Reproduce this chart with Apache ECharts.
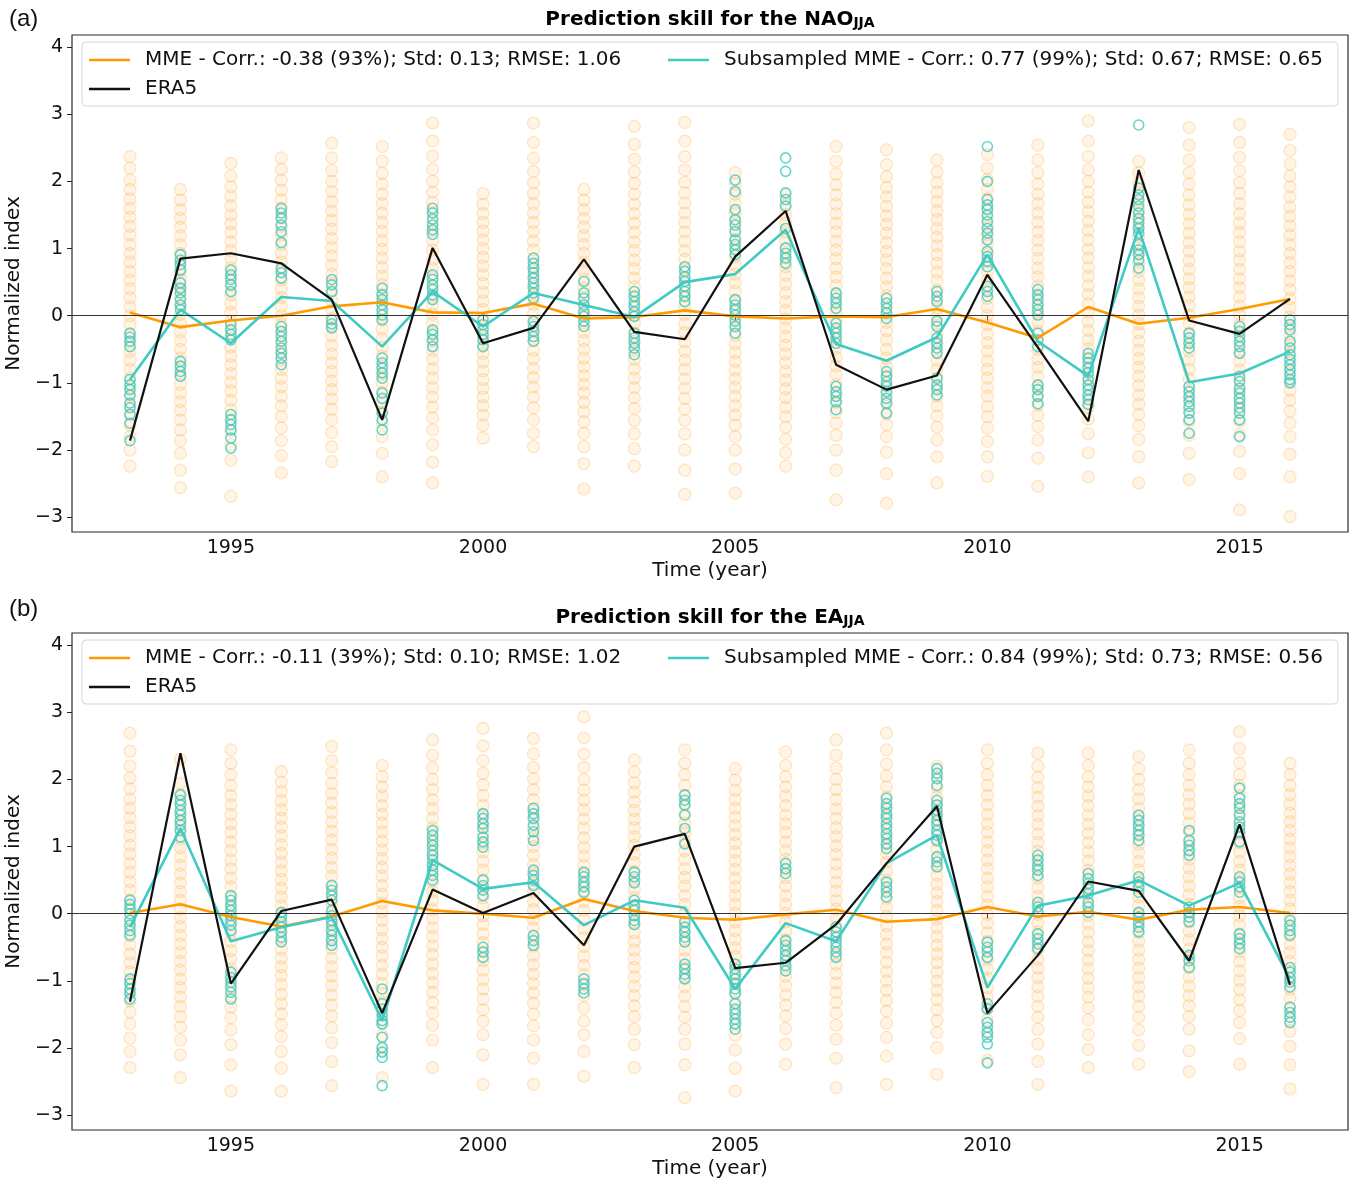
<!DOCTYPE html>
<html><head><meta charset="utf-8">
<script src="https://cdn.jsdelivr.net/npm/echarts@6/dist/echarts.min.js"></script>
<style>html,body{margin:0;padding:0;background:#fff}#c{width:1351px;height:1179px}</style>
</head><body><div id="c"></div>
<script>
// ---------- data ----------
const years = [1993,1994,1995,1996,1997,1998,1999,2000,2001,2002,2003,2004,2005,2006,2007,2008,2009,2010,2011,2012,2013,2014,2015,2016];
const xTicks = [1995,2000,2005,2010,2015];
const yTicks = [-3,-2,-1,0,1,2,3,4];

const naoLabels = ['MME - Corr.: -0.38 (93%); Std: 0.13; RMSE: 1.06','Subsampled MME - Corr.: 0.77 (99%); Std: 0.67; RMSE: 0.65','ERA5'];
const eaLabels  = ['MME - Corr.: -0.11 (39%); Std: 0.10; RMSE: 1.02','Subsampled MME - Corr.: 0.84 (99%); Std: 0.73; RMSE: 0.56','ERA5'];

const naoMME  = [0.05,-0.17,-0.07,0.00,0.14,0.20,0.05,0.04,0.18,-0.04,-0.02,0.08,-0.01,-0.04,-0.01,-0.02,0.10,-0.10,-0.33,0.13,-0.12,-0.03,0.10,0.25];
const naoSub  = [-0.95,0.09,-0.41,0.28,0.22,-0.46,0.36,-0.16,0.34,0.16,-0.02,0.50,0.62,1.28,-0.42,-0.67,-0.32,0.91,-0.38,-0.90,1.30,-0.99,-0.86,-0.53];
const naoERA5 = [-1.86,0.85,0.93,0.78,0.24,-1.55,1.01,-0.41,-0.18,0.84,-0.24,-0.35,0.88,1.56,-0.73,-1.10,-0.89,0.61,-0.47,-1.57,2.17,-0.07,-0.27,0.25];

const eaMME  = [0.01,0.14,-0.05,-0.19,-0.04,0.19,0.05,0.00,-0.06,0.22,0.04,-0.06,-0.09,-0.01,0.06,-0.12,-0.08,0.10,-0.04,0.03,-0.09,0.06,0.10,0.01];
const eaSub  = [-0.20,1.27,-0.41,-0.20,-0.05,-1.59,0.80,0.37,0.47,-0.17,0.20,0.09,-1.12,-0.14,-0.41,0.75,1.17,-1.10,0.12,0.27,0.50,0.12,0.46,-0.97];
const eaERA5 = [-1.31,2.39,-1.04,0.04,0.21,-1.48,0.36,0.01,0.31,-0.47,1.00,1.19,-0.81,-0.73,-0.16,0.75,1.60,-1.48,-0.62,0.48,0.34,-0.70,1.33,-1.06];

// subsampled ensemble members (cyan circles), one list per year
const naoSubMembers = [
[-0.26,-0.32,-0.38,-0.46,-0.95,-1.03,-1.10,-1.18,-1.30,-1.37,-1.47,-1.60,-1.86],
[0.91,0.83,0.76,0.68,0.49,0.41,0.34,0.24,0.16,0.09,-0.68,-0.75,-0.83,-0.90],
[0.68,0.61,0.54,0.46,0.36,-0.13,-0.21,-0.28,-0.36,-1.47,-1.55,-1.62,-1.70,-1.82,-1.97],
[1.60,1.53,1.45,1.35,1.25,1.09,0.71,0.64,0.56,-0.16,-0.23,-0.31,-0.38,-0.48,-0.56,-0.63,-0.73],
[0.54,0.46,0.36,-0.06,-0.12,-0.18],
[0.41,0.31,0.24,0.16,0.09,0.01,-0.06,-0.63,-0.70,-0.78,-0.85,-0.93,-1.15,-1.23,-1.45,-1.55,-1.70],
[1.60,1.53,1.44,1.35,1.28,1.21,0.61,0.54,0.46,0.39,0.31,0.24,-0.21,-0.28,-0.36,-0.46],
[-0.06,-0.13,-0.21,-0.28,-0.36,-0.46],
[0.86,0.78,0.71,0.64,0.56,0.49,0.41,0.34,0.26,-0.08,-0.16,-0.23,-0.31,-0.38],
[0.51,0.34,0.26,0.16,0.06,-0.01,-0.08,-0.16],
[0.36,0.29,0.21,0.14,0.06,-0.01,-0.26,-0.33,-0.41,-0.48,-0.58],
[0.73,0.66,0.58,0.51,0.44,0.36,0.29,0.21],
[2.02,1.85,1.58,1.43,1.35,1.25,1.13,1.06,0.98,0.91,0.24,0.16,0.09,0.01,-0.08,-0.16,-0.26],
[2.35,2.15,1.83,1.73,1.63,1.30,1.01,0.93,0.86,0.78],
[0.34,0.26,0.19,0.11,-0.11,-0.18,-0.26,-0.33,-0.41,-1.05,-1.13,-1.20,-1.28,-1.40],
[0.26,0.19,0.11,0.04,-0.04,-0.83,-0.90,-0.98,-1.05,-1.13,-1.23,-1.30,-1.45],
[0.36,0.29,0.21,-0.08,-0.16,-0.33,-0.41,-0.48,-0.56,-0.93,-1.03,-1.10,-1.18],
[2.52,2.00,1.73,1.65,1.58,1.50,1.40,1.30,1.23,1.13,0.96,0.88,0.81,0.73,0.44,0.36,0.29],
[0.39,0.31,0.24,0.16,0.09,0.01,-0.26,-0.36,-0.46,-1.03,-1.10,-1.20,-1.31],
[-0.56,-0.63,-0.70,-0.78,-0.85,-0.95,-1.03,-1.10,-1.18,-1.25,-1.32],
[2.84,1.90,1.80,1.73,1.63,1.53,1.45,1.38,1.30,1.23,1.06,0.98,0.91,0.83,0.71],
[-0.26,-0.33,-0.41,-0.48,-1.05,-1.13,-1.20,-1.28,-1.35,-1.45,-1.55,-1.75],
[-0.16,-0.23,-0.31,-0.38,-0.46,-0.56,-0.90,-0.98,-1.08,-1.15,-1.23,-1.30,-1.37,-1.45,-1.55,-1.80],
[-0.06,-0.13,-0.21,-0.38,-0.48,-0.58,-0.65,-0.73,-0.80,-0.88,-0.95,-1.00]
];
const eaSubMembers = [
[0.20,0.14,0.07,0.00,-0.10,-0.17,-0.25,-0.32,-0.97,-1.04,-1.12,-1.19,-1.27],
[1.77,1.69,1.62,1.54,1.47,1.39,1.32,1.24,1.14],
[0.27,0.20,0.12,0.05,-0.03,-0.10,-0.17,-0.25,-0.87,-0.95,-1.02,-1.09,-1.17,-1.27],
[0.02,-0.05,-0.12,-0.20,-0.27,-0.35,-0.42],
[0.42,0.35,0.27,0.20,0.05,-0.03,-0.10,-0.17,-0.25,-0.32,-0.40,-0.47],
[-1.12,-1.34,-1.42,-1.52,-1.59,-1.64,-1.84,-1.99,-2.06,-2.14,-2.56],
[1.24,1.17,1.09,1.02,0.94,0.87,0.80,0.72,0.65,0.57,0.50],
[1.49,1.42,1.34,1.27,1.14,1.07,0.99,0.50,0.42,0.35,0.27,-0.50,-0.57,-0.65],
[1.57,1.49,1.42,1.32,1.22,1.09,0.65,0.57,0.50,0.42,-0.32,-0.40,-0.47],
[0.62,0.55,0.47,0.40,0.32,-0.97,-1.04,-1.12,-1.18],
[0.62,0.55,0.46,0.20,0.12,0.05,-0.03,-0.10,-0.16],
[1.77,1.69,1.62,1.47,1.27,1.04,-0.12,-0.20,-0.27,-0.35,-0.42,-0.75,-0.82,-0.90,-0.97],
[-0.75,-0.82,-0.90,-0.97,-1.04,-1.12,-1.19,-1.34,-1.42,-1.49,-1.57,-1.64,-1.72],
[0.75,0.67,0.60,-0.40,-0.47,-0.55,-0.62,-0.70,-0.77,-0.85],
[-0.20,-0.27,-0.35,-0.42,-0.50,-0.57,-0.65],
[1.72,1.64,1.57,1.49,1.42,1.34,1.27,1.19,1.12,1.04,0.97,0.47,0.40,0.32,0.25],
[2.16,2.09,2.01,1.91,1.69,1.62,1.54,1.47,1.39,1.32,1.24,1.17,1.09,0.85,0.77,0.70],
[-0.42,-0.50,-0.57,-0.65,-1.34,-1.42,-1.62,-1.69,-1.77,-1.84,-1.94,-2.22],
[0.87,0.80,0.72,0.65,0.57,0.17,0.10,0.02,-0.30,-0.37,-0.45,-0.52],
[0.60,0.52,0.45,0.37,0.30,0.17,0.10,0.02],
[1.47,1.39,1.32,1.24,1.17,1.09,0.55,0.47,0.40,0.32,0.02,-0.05,-0.12,-0.20,-0.27],
[1.24,1.09,1.02,0.94,0.87,0.10,0.02,-0.05,-0.12,-0.62,-0.70,-0.80],
[1.87,1.72,1.64,1.57,1.47,1.37,1.29,1.22,1.07,0.55,0.47,0.40,0.32,-0.30,-0.37,-0.45,-0.52],
[-0.10,-0.17,-0.25,-0.32,-0.80,-0.87,-0.95,-1.02,-1.09,-1.39,-1.47,-1.54,-1.62]
];

// full ensemble members (faint orange circles), one list per year
const naoEnsMembers = [
[2.37,2.2,2.02,1.88,1.74,1.6,1.47,1.33,1.2,1.06,0.93,0.8,0.66,0.53,0.4,0.27,0.13,0.0,-0.13,-0.27,-0.4,-0.53,-0.66,-0.8,-0.93,-1.06,-1.2,-1.34,-1.48,-1.63,-1.8,-2.0,-2.24],
[1.88,1.72,1.58,1.45,1.32,1.19,1.06,0.93,0.8,0.67,0.54,0.41,0.28,0.15,0.02,-0.11,-0.24,-0.37,-0.5,-0.63,-0.76,-0.89,-1.02,-1.15,-1.28,-1.41,-1.55,-1.7,-1.86,-2.05,-2.3,-2.56],
[2.27,2.08,1.92,1.78,1.64,1.5,1.37,1.24,1.1,0.97,0.84,0.71,0.58,0.45,0.31,0.18,0.05,-0.08,-0.21,-0.34,-0.47,-0.6,-0.73,-0.86,-0.99,-1.12,-1.26,-1.4,-1.55,-1.72,-1.92,-2.15,-2.69],
[2.35,2.18,2.02,1.87,1.73,1.6,1.46,1.33,1.2,1.06,0.93,0.8,0.66,0.53,0.4,0.27,0.14,0.0,-0.13,-0.26,-0.4,-0.53,-0.66,-0.8,-0.93,-1.06,-1.2,-1.34,-1.5,-1.67,-1.86,-2.08,-2.34],
[2.57,2.35,2.16,2.0,1.85,1.7,1.56,1.42,1.29,1.15,1.02,0.89,0.75,0.62,0.49,0.36,0.22,0.09,-0.04,-0.17,-0.3,-0.44,-0.57,-0.7,-0.83,-0.97,-1.1,-1.24,-1.39,-1.55,-1.74,-1.95,-2.17],
[2.52,2.3,2.12,1.96,1.81,1.67,1.53,1.39,1.26,1.12,0.99,0.86,0.72,0.59,0.46,0.32,0.19,0.06,-0.07,-0.2,-0.34,-0.47,-0.6,-0.74,-0.87,-1.0,-1.14,-1.28,-1.43,-1.6,-1.8,-2.05,-2.4],
[2.87,2.6,2.38,2.18,2.0,1.84,1.69,1.54,1.4,1.26,1.12,0.98,0.84,0.7,0.57,0.43,0.29,0.16,0.02,-0.11,-0.25,-0.38,-0.52,-0.65,-0.79,-0.93,-1.07,-1.21,-1.36,-1.52,-1.7,-1.92,-2.18,-2.49],
[1.82,1.66,1.52,1.39,1.26,1.13,1.0,0.87,0.74,0.61,0.48,0.35,0.22,0.09,-0.04,-0.17,-0.3,-0.43,-0.56,-0.69,-0.82,-0.95,-1.08,-1.21,-1.34,-1.48,-1.63,-1.82],
[2.87,2.58,2.35,2.15,1.98,1.82,1.67,1.53,1.39,1.25,1.11,0.98,0.84,0.71,0.57,0.44,0.3,0.17,0.03,-0.1,-0.24,-0.37,-0.51,-0.64,-0.78,-0.92,-1.06,-1.21,-1.37,-1.55,-1.75,-1.95],
[1.88,1.72,1.58,1.45,1.32,1.19,1.06,0.93,0.8,0.67,0.54,0.41,0.28,0.15,0.02,-0.11,-0.24,-0.37,-0.5,-0.63,-0.76,-0.89,-1.02,-1.15,-1.29,-1.43,-1.58,-1.75,-1.95,-2.2,-2.58],
[2.82,2.55,2.33,2.14,1.97,1.81,1.66,1.52,1.38,1.24,1.1,0.97,0.83,0.7,0.56,0.43,0.29,0.16,0.02,-0.11,-0.25,-0.38,-0.52,-0.65,-0.79,-0.93,-1.07,-1.22,-1.38,-1.56,-1.76,-1.98,-2.24],
[2.88,2.6,2.37,2.17,1.99,1.83,1.68,1.53,1.39,1.25,1.11,0.97,0.84,0.7,0.56,0.43,0.29,0.15,0.02,-0.12,-0.25,-0.39,-0.53,-0.66,-0.8,-0.94,-1.08,-1.23,-1.39,-1.56,-1.76,-2.0,-2.3,-2.66],
[2.13,1.96,1.81,1.67,1.53,1.4,1.27,1.14,1.01,0.88,0.75,0.62,0.49,0.36,0.23,0.1,-0.03,-0.16,-0.29,-0.42,-0.55,-0.68,-0.81,-0.94,-1.07,-1.2,-1.34,-1.48,-1.63,-1.8,-2.0,-2.28,-2.64],
[1.8,1.65,1.51,1.38,1.25,1.12,0.99,0.86,0.73,0.6,0.47,0.34,0.21,0.08,-0.05,-0.18,-0.31,-0.44,-0.57,-0.7,-0.83,-0.96,-1.09,-1.22,-1.36,-1.5,-1.66,-1.84,-2.04,-2.24],
[2.52,2.3,2.11,1.95,1.8,1.66,1.52,1.38,1.25,1.11,0.98,0.85,0.71,0.58,0.45,0.31,0.18,0.05,-0.08,-0.22,-0.35,-0.48,-0.62,-0.75,-0.88,-1.02,-1.15,-1.29,-1.44,-1.6,-1.78,-2.0,-2.3,-2.74],
[2.47,2.25,2.07,1.91,1.77,1.63,1.49,1.36,1.23,1.09,0.96,0.83,0.7,0.56,0.43,0.3,0.17,0.03,-0.1,-0.23,-0.36,-0.5,-0.63,-0.76,-0.9,-1.03,-1.17,-1.31,-1.46,-1.62,-1.8,-2.03,-2.35,-2.79],
[2.32,2.14,1.98,1.84,1.7,1.56,1.43,1.3,1.17,1.04,0.91,0.78,0.65,0.52,0.38,0.25,0.12,-0.01,-0.14,-0.27,-0.4,-0.53,-0.66,-0.8,-0.93,-1.06,-1.2,-1.34,-1.49,-1.66,-1.85,-2.1,-2.49],
[2.4,2.2,2.03,1.88,1.74,1.6,1.46,1.33,1.2,1.06,0.93,0.8,0.66,0.53,0.4,0.26,0.13,0.0,-0.13,-0.27,-0.4,-0.53,-0.67,-0.8,-0.93,-1.07,-1.2,-1.35,-1.5,-1.67,-1.87,-2.1,-2.39],
[2.54,2.32,2.13,1.96,1.81,1.67,1.53,1.39,1.25,1.12,0.98,0.85,0.71,0.58,0.44,0.31,0.17,0.04,-0.1,-0.23,-0.37,-0.5,-0.64,-0.77,-0.91,-1.05,-1.19,-1.33,-1.48,-1.65,-1.85,-2.12,-2.54],
[2.9,2.6,2.37,2.17,2.0,1.84,1.69,1.55,1.41,1.27,1.13,0.99,0.86,0.72,0.59,0.45,0.32,0.18,0.05,-0.09,-0.22,-0.36,-0.49,-0.63,-0.77,-0.91,-1.05,-1.2,-1.36,-1.54,-1.76,-2.04,-2.4],
[2.3,2.13,1.98,1.84,1.7,1.57,1.44,1.31,1.18,1.05,0.92,0.79,0.66,0.53,0.4,0.27,0.14,0.01,-0.12,-0.25,-0.38,-0.51,-0.64,-0.77,-0.9,-1.04,-1.18,-1.32,-1.47,-1.64,-1.84,-2.1,-2.49],
[2.8,2.54,2.32,2.13,1.96,1.8,1.65,1.51,1.37,1.23,1.09,0.96,0.82,0.69,0.55,0.42,0.28,0.15,0.01,-0.12,-0.26,-0.39,-0.53,-0.66,-0.8,-0.94,-1.08,-1.23,-1.39,-1.57,-1.78,-2.05,-2.44],
[2.85,2.58,2.36,2.16,1.98,1.82,1.67,1.52,1.38,1.24,1.1,0.96,0.83,0.69,0.55,0.42,0.28,0.14,0.01,-0.13,-0.26,-0.4,-0.54,-0.67,-0.81,-0.95,-1.09,-1.24,-1.4,-1.57,-1.77,-2.02,-2.35,-2.89],
[2.7,2.46,2.26,2.08,1.92,1.77,1.62,1.48,1.34,1.2,1.06,0.93,0.79,0.66,0.52,0.39,0.25,0.12,-0.02,-0.15,-0.29,-0.42,-0.56,-0.69,-0.83,-0.97,-1.11,-1.26,-1.42,-1.6,-1.8,-2.06,-2.4,-2.99]
];
const eaEnsMembers = [
[2.69,2.42,2.2,2.02,1.86,1.71,1.57,1.43,1.29,1.16,1.02,0.89,0.75,0.62,0.48,0.35,0.21,0.08,-0.06,-0.19,-0.33,-0.46,-0.6,-0.73,-0.87,-1.01,-1.15,-1.3,-1.46,-1.64,-1.85,-2.05,-2.29],
[2.3,1.94,1.78,1.64,1.5,1.37,1.24,1.11,0.98,0.85,0.72,0.59,0.46,0.33,0.2,0.07,-0.06,-0.19,-0.32,-0.45,-0.58,-0.71,-0.84,-0.97,-1.1,-1.24,-1.38,-1.53,-1.69,-1.88,-2.1,-2.44],
[2.44,2.24,2.07,1.91,1.76,1.62,1.48,1.34,1.21,1.07,0.94,0.8,0.67,0.53,0.4,0.26,0.13,-0.01,-0.14,-0.28,-0.41,-0.55,-0.68,-0.82,-0.96,-1.1,-1.24,-1.39,-1.55,-1.73,-1.95,-2.25,-2.64],
[2.12,1.96,1.82,1.68,1.55,1.42,1.29,1.16,1.03,0.9,0.77,0.64,0.51,0.38,0.25,0.12,-0.01,-0.14,-0.27,-0.4,-0.53,-0.66,-0.79,-0.92,-1.06,-1.2,-1.34,-1.49,-1.65,-1.83,-2.05,-2.3,-2.64],
[2.49,2.28,2.1,1.94,1.79,1.65,1.51,1.37,1.23,1.1,0.96,0.83,0.69,0.56,0.42,0.29,0.15,0.02,-0.12,-0.25,-0.39,-0.52,-0.66,-0.79,-0.93,-1.07,-1.21,-1.36,-1.52,-1.7,-1.92,-2.2,-2.56],
[2.21,2.04,1.89,1.75,1.61,1.48,1.35,1.22,1.08,0.95,0.82,0.69,0.56,0.42,0.29,0.16,0.03,-0.1,-0.24,-0.37,-0.5,-0.63,-0.77,-0.9,-1.04,-1.18,-1.32,-1.47,-1.63,-1.81,-2.03,-2.44],
[2.59,2.36,2.17,2.0,1.85,1.7,1.56,1.42,1.28,1.14,1.01,0.87,0.74,0.6,0.47,0.33,0.2,0.06,-0.07,-0.21,-0.34,-0.48,-0.61,-0.75,-0.89,-1.03,-1.17,-1.32,-1.48,-1.66,-1.88,-2.29],
[2.76,2.5,2.28,2.09,1.92,1.76,1.61,1.47,1.33,1.19,1.05,0.92,0.78,0.65,0.51,0.38,0.24,0.11,-0.03,-0.16,-0.3,-0.43,-0.57,-0.7,-0.84,-0.98,-1.12,-1.27,-1.43,-1.6,-1.8,-2.1,-2.54],
[2.61,2.38,2.18,2.01,1.85,1.7,1.56,1.42,1.28,1.14,1.0,0.87,0.73,0.6,0.46,0.33,0.19,0.06,-0.08,-0.21,-0.35,-0.48,-0.62,-0.76,-0.9,-1.04,-1.18,-1.33,-1.49,-1.67,-1.88,-2.15,-2.54],
[2.93,2.62,2.38,2.18,2.0,1.84,1.69,1.55,1.41,1.27,1.13,0.99,0.86,0.72,0.59,0.45,0.32,0.18,0.05,-0.09,-0.22,-0.36,-0.49,-0.63,-0.77,-0.91,-1.06,-1.22,-1.4,-1.6,-1.8,-2.05,-2.42],
[2.29,2.11,1.95,1.81,1.67,1.54,1.41,1.28,1.15,1.02,0.89,0.76,0.63,0.5,0.37,0.24,0.11,-0.02,-0.15,-0.28,-0.41,-0.54,-0.67,-0.8,-0.94,-1.08,-1.22,-1.37,-1.53,-1.72,-1.95,-2.29],
[2.44,2.24,2.07,1.91,1.76,1.62,1.48,1.35,1.21,1.08,0.94,0.81,0.67,0.54,0.41,0.27,0.14,0.0,-0.13,-0.27,-0.4,-0.54,-0.67,-0.81,-0.95,-1.09,-1.23,-1.38,-1.54,-1.72,-1.94,-2.25,-2.74],
[2.16,1.99,1.84,1.7,1.57,1.44,1.31,1.18,1.05,0.92,0.79,0.66,0.53,0.4,0.27,0.14,0.01,-0.12,-0.25,-0.38,-0.51,-0.64,-0.77,-0.91,-1.04,-1.18,-1.32,-1.47,-1.63,-1.81,-2.03,-2.3,-2.64],
[2.41,2.21,2.04,1.89,1.75,1.61,1.47,1.34,1.21,1.07,0.94,0.81,0.67,0.54,0.41,0.27,0.14,0.01,-0.12,-0.26,-0.39,-0.52,-0.66,-0.79,-0.93,-1.07,-1.21,-1.36,-1.52,-1.71,-1.94,-2.24],
[2.59,2.36,2.17,2.0,1.85,1.7,1.56,1.42,1.28,1.15,1.01,0.88,0.74,0.61,0.47,0.34,0.2,0.07,-0.07,-0.2,-0.34,-0.47,-0.61,-0.75,-0.89,-1.03,-1.17,-1.32,-1.48,-1.66,-1.87,-2.15,-2.59],
[2.69,2.44,2.23,2.05,1.89,1.74,1.59,1.45,1.31,1.17,1.04,0.9,0.77,0.63,0.5,0.36,0.23,0.09,-0.04,-0.18,-0.31,-0.45,-0.58,-0.72,-0.86,-1.0,-1.14,-1.29,-1.45,-1.63,-1.84,-2.12,-2.54],
[2.2,2.03,1.88,1.74,1.61,1.48,1.35,1.22,1.09,0.96,0.83,0.7,0.57,0.44,0.31,0.18,0.05,-0.08,-0.21,-0.34,-0.47,-0.6,-0.73,-0.87,-1.0,-1.14,-1.28,-1.43,-1.59,-1.77,-1.99,-2.39],
[2.44,2.24,2.07,1.91,1.76,1.62,1.48,1.34,1.21,1.07,0.94,0.8,0.67,0.53,0.4,0.26,0.13,-0.01,-0.14,-0.28,-0.41,-0.55,-0.68,-0.82,-0.96,-1.1,-1.25,-1.41,-1.58,-1.78,-2.18],
[2.39,2.2,2.03,1.88,1.74,1.6,1.46,1.33,1.19,1.06,0.93,0.79,0.66,0.53,0.39,0.26,0.13,-0.01,-0.14,-0.27,-0.41,-0.54,-0.68,-0.81,-0.95,-1.09,-1.23,-1.38,-1.54,-1.72,-1.94,-2.2,-2.54],
[2.39,2.21,2.04,1.89,1.75,1.61,1.47,1.33,1.2,1.06,0.92,0.79,0.65,0.52,0.38,0.25,0.12,-0.02,-0.15,-0.28,-0.42,-0.55,-0.69,-0.82,-0.96,-1.1,-1.24,-1.4,-1.58,-1.8,-2.02,-2.29],
[2.34,2.16,2.0,1.85,1.71,1.57,1.44,1.31,1.17,1.04,0.91,0.78,0.65,0.51,0.38,0.25,0.12,-0.01,-0.15,-0.28,-0.41,-0.54,-0.68,-0.81,-0.95,-1.09,-1.23,-1.38,-1.54,-1.73,-1.96,-2.24],
[2.44,2.24,2.07,1.91,1.77,1.63,1.49,1.35,1.22,1.08,0.95,0.81,0.68,0.55,0.41,0.28,0.14,0.01,-0.12,-0.26,-0.39,-0.53,-0.66,-0.8,-0.94,-1.08,-1.22,-1.37,-1.53,-1.72,-2.04,-2.35],
[2.71,2.46,2.25,2.07,1.91,1.76,1.61,1.47,1.33,1.19,1.05,0.92,0.78,0.65,0.51,0.38,0.24,0.11,-0.03,-0.16,-0.3,-0.43,-0.57,-0.71,-0.85,-0.99,-1.13,-1.28,-1.44,-1.62,-1.86,-2.24],
[2.24,2.07,1.91,1.77,1.63,1.5,1.37,1.24,1.11,0.98,0.85,0.72,0.59,0.46,0.33,0.2,0.07,-0.06,-0.19,-0.32,-0.45,-0.58,-0.71,-0.85,-0.98,-1.12,-1.26,-1.41,-1.57,-1.75,-1.97,-2.25,-2.61]
];

// ---------- chart ----------
const FONT = 'DejaVu Sans';
const C_OR = '#FF9A00', C_CY = '#3FCBC4', C_BK = '#111111';
const X_MIN = 1991.85, X_MAX = 2017.15, Y_MIN = -3.22, Y_MAX = 4.18;
const GRID_TOP = [35, 633], GRID_H = 497;

function pts(members){ const out=[]; members.forEach((arr,i)=>arr.forEach(v=>out.push([years[i],v]))); return out; }
function ser(arr){ return arr.map((v,i)=>[years[i],v]); }
const minus = v => String(v).replace('-', '\u2212');

const grids = GRID_TOP.map(t=>({left:72, top:t, width:1276, height:GRID_H, show:true, borderColor:'#2a2a2a', borderWidth:1.2,
  backgroundColor:'transparent', containLabel:false, outerBoundsMode:'none'}));
const xAxes = [0,1].map(i=>({
  gridIndex:i, type:'value', min:X_MIN, max:X_MAX,
  splitLine:{show:false}, axisLine:{show:false},
  axisTick:{show:true, inside:false, length:5, customValues:xTicks, lineStyle:{color:'#222', width:1}},
  axisLabel:{customValues:xTicks, fontSize:19, fontFamily:FONT, color:'#111', margin:7, formatter:v=>String(v)},
  name:'Time (year)', nameLocation:'middle', nameGap:29,
  nameTextStyle:{fontSize:20, fontFamily:FONT, color:'#111'}
}));
const yAxes = [0,1].map(i=>({
  gridIndex:i, type:'value', min:Y_MIN, max:Y_MAX,
  splitLine:{show:false}, axisLine:{show:false},
  axisTick:{show:true, inside:false, length:5, customValues:yTicks, lineStyle:{color:'#222', width:1}},
  axisLabel:{customValues:yTicks, fontSize:19, fontFamily:FONT, color:'#111', margin:9, formatter:minus},
  name:'Normalized index', nameLocation:'middle', nameGap:43, nameRotate:90,
  nameTextStyle:{fontSize:20, fontFamily:FONT, color:'#111'}
}));

function panelSeries(p, ens, sub, mme, subLine, era, labels){
  return [
    {type:'scatter', name:'ens'+p, xAxisIndex:p, yAxisIndex:p, data:pts(ens), symbol:'circle', symbolSize:12,
     itemStyle:{color:'rgba(255,195,110,0.22)', borderColor:'rgba(255,178,70,0.38)', borderWidth:1.2}, silent:true, z:1,
     markLine:{silent:true, symbol:['none','none'], label:{show:false}, lineStyle:{color:'#333', width:1, type:'solid'}, data:[{yAxis:0}]}},
    {type:'scatter', name:'sub'+p, xAxisIndex:p, yAxisIndex:p, data:pts(sub), symbol:'circle', symbolSize:10,
     itemStyle:{color:'rgba(255,255,255,0)', borderColor:C_CY, borderWidth:1.6}, silent:true, z:2},
    {type:'line', name:labels[0], xAxisIndex:p, yAxisIndex:p, data:ser(mme), showSymbol:false, symbol:'none',
     lineStyle:{color:C_OR, width:2.6}, itemStyle:{color:C_OR}, z:3},
    {type:'line', name:labels[1], xAxisIndex:p, yAxisIndex:p, data:ser(subLine), showSymbol:false, symbol:'none',
     lineStyle:{color:C_CY, width:2.6}, itemStyle:{color:C_CY}, z:4},
    {type:'line', name:labels[2], xAxisIndex:p, yAxisIndex:p, data:ser(era), showSymbol:false, symbol:'none',
     lineStyle:{color:C_BK, width:2.2}, itemStyle:{color:C_BK}, z:5}
  ];
}

function legend(left, top, names){
  return {left:left, top:top, orient:'vertical', data:names, icon:'rect', itemWidth:41, itemHeight:2.5,
    itemGap:9, padding:0, z:20, selectedMode:false,
    textStyle:{fontSize:20, fontFamily:FONT, color:'#111', lineHeight:20, padding:[0,0,0,10]}};
}

const legends = [
  legend(89, 50, [naoLabels[0], naoLabels[2]]),
  legend(668, 50, [naoLabels[1]]),
  legend(89, 648, [eaLabels[0], eaLabels[2]]),
  legend(668, 648, [eaLabels[1]])
];

function titleOf(top, main){
  return {left:710, top:top, text:'{m|'+main+'}{s|JJA}', textAlign:'center', padding:0,
    textStyle:{rich:{
      m:{fontFamily:FONT, fontWeight:'bold', fontSize:20, color:'#000', lineHeight:26, verticalAlign:'bottom'},
      s:{fontFamily:FONT, fontWeight:'bold', fontSize:14, color:'#000', lineHeight:14, verticalAlign:'bottom'}
    }}};
}

const option = {
  animation:false,
  backgroundColor:'#fff',
  title:[titleOf(4,'Prediction skill for the NAO'), titleOf(602,'Prediction skill for the EA')],
  grid:grids, xAxis:xAxes, yAxis:yAxes, legend:legends,
  graphic:[
    {type:'rect', z:10, shape:{x:82, y:42, width:1256, height:64, r:4}, style:{fill:'rgba(255,255,255,0.82)', stroke:'#d6d6d6', lineWidth:1}},
    {type:'rect', z:10, shape:{x:82, y:640, width:1256, height:64, r:4}, style:{fill:'rgba(255,255,255,0.82)', stroke:'#d6d6d6', lineWidth:1}},
    {type:'text', z:10, left:9, top:7, style:{text:'(a)', font:'24px "Liberation Sans"', fill:'#111'}},
    {type:'text', z:10, left:9, top:597, style:{text:'(b)', font:'24px "Liberation Sans"', fill:'#111'}}
  ],
  series:[].concat(
    panelSeries(0, naoEnsMembers, naoSubMembers, naoMME, naoSub, naoERA5, naoLabels),
    panelSeries(1, eaEnsMembers, eaSubMembers, eaMME, eaSub, eaERA5, eaLabels)
  )
};
const chart = echarts.init(document.getElementById('c'));
chart.setOption(option);
</script>
</body></html>
